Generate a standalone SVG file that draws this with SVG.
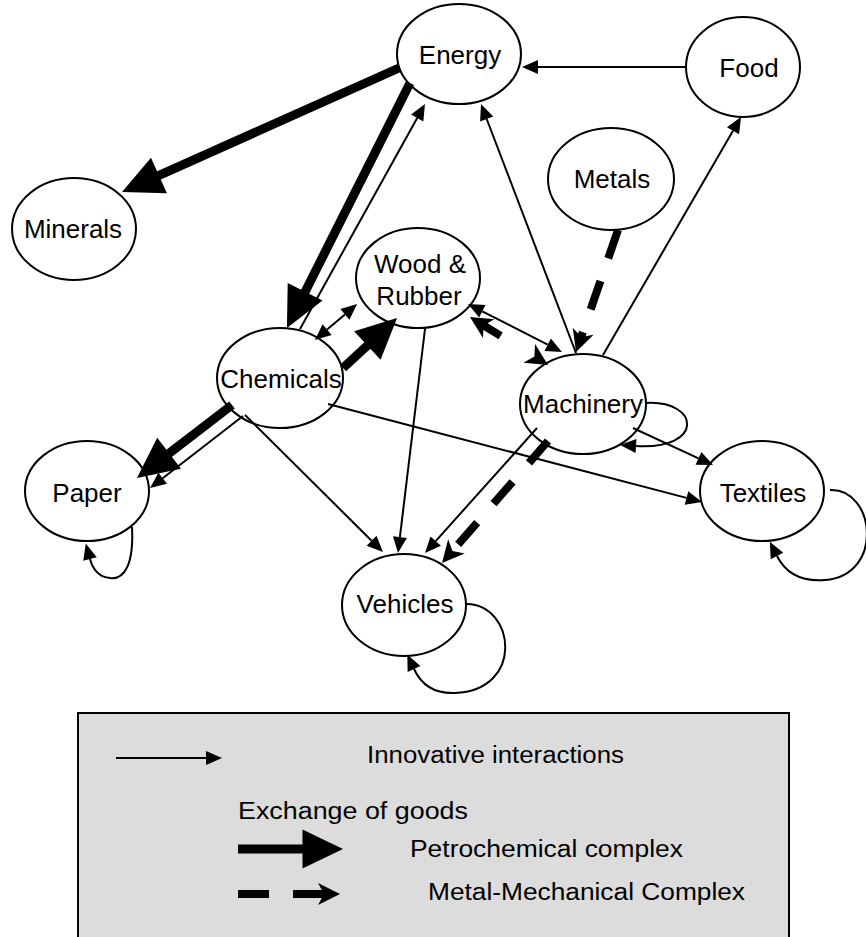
<svg xmlns="http://www.w3.org/2000/svg" width="866" height="937" viewBox="0 0 866 937">
<style>
.node ellipse{fill:#fff;stroke:#000;stroke-width:2}
text{font-family:"Liberation Sans",Arial,Helvetica,sans-serif;fill:#000}
.node text{font-size:26px;text-anchor:middle}
.legend text{font-size:23px}
.thin{fill:none;stroke:#000;stroke-width:2;marker-end:url(#mThin)}
.thin.both{marker-start:url(#mThin)}
.petro{fill:none;stroke:#000;stroke-width:9;marker-end:url(#mPetro)}
.metal{fill:none;stroke:#000;stroke-width:8;stroke-dasharray:30 24;marker-end:url(#mMetal)}
.metal.both{marker-start:url(#mMetal)}
</style>
<defs>
<marker id="mThin" markerUnits="userSpaceOnUse" markerWidth="20" markerHeight="20" refX="0" refY="0" orient="auto-start-reverse" overflow="visible"><path d="M0,-7 L16,0 L0,7 z" fill="#000"/></marker>
<marker id="mPetro" markerUnits="userSpaceOnUse" markerWidth="45" markerHeight="45" refX="0" refY="0" orient="auto-start-reverse" overflow="visible"><path d="M-0.5,-19.5 L40,0 L-0.5,19.5 z" fill="#000"/></marker>
<marker id="mMetal" markerUnits="userSpaceOnUse" markerWidth="30" markerHeight="30" refX="0" refY="0" orient="auto-start-reverse" overflow="visible"><path d="M-6,-11 L16,0 L-6,11 L0,0 z" fill="#000"/></marker>
</defs>

<g id="nodes">
<g id="energy" class="node"><ellipse cx="459" cy="54" rx="62" ry="50"/><text x="460" y="64">Energy</text></g>
<g id="food" class="node"><ellipse cx="743" cy="67" rx="57" ry="50"/><text x="749" y="77">Food</text></g>
<g id="metals" class="node"><ellipse cx="611" cy="179" rx="63" ry="51"/><text x="612" y="188">Metals</text></g>
<g id="minerals" class="node"><ellipse cx="74" cy="229" rx="62" ry="51"/><text x="73" y="238">Minerals</text></g>
<g id="wood-rubber" class="node"><ellipse cx="418" cy="278" rx="62" ry="50"/><text x="420" y="273">Wood &amp;</text><text x="419" y="305">Rubber</text></g>
<g id="chemicals" class="node"><ellipse cx="280" cy="378" rx="63" ry="50"/><text x="281" y="388">Chemicals</text></g>
<g id="machinery" class="node"><ellipse cx="583" cy="404" rx="63" ry="50"/><text x="583" y="413">Machinery</text></g>
<g id="paper" class="node"><ellipse cx="87" cy="491" rx="62" ry="50"/><text x="87" y="502">Paper</text></g>
<g id="textiles" class="node"><ellipse cx="762" cy="491" rx="62" ry="50"/><text x="763" y="502">Textiles</text></g>
<g id="vehicles" class="node"><ellipse cx="404" cy="605" rx="62" ry="51"/><text x="405" y="613">Vehicles</text></g>
</g>

<g id="connectors">
<path class="thin" d="M686,67 L538,67"/>
<path class="thin" d="M300,329 L417.2,118"/>
<path class="thin" d="M576,353 L486.7,119"/>
<path class="thin" d="M603,355 L733,130.8"/>
<path class="thin both" d="M327.1,329.6 L344.9,314.4"/>
<path class="thin both" d="M482.3,311.3 L547.7,344.7"/>
<path class="thin" d="M245,415 L371.6,540.7"/>
<path class="thin" d="M425,329 L399.9,537.1"/>
<path class="thin" d="M537,428 L435.7,541.1"/>
<path class="thin" d="M633,428 L698.5,458.3"/>
<path class="thin" d="M328,404 L686.5,497.9"/>
<path class="thin" d="M243,416 L162.7,478.2"/>
<path class="thin" d="M646,403 C700,400 705,450 636,446"/>
<path class="thin" d="M830,490 C875,488 885,575 825,580 C800,582 785,572 777,556"/>
<path class="thin" d="M467,604 C515,605 525,690 455,693 C432,694 420,682 414,669"/>
<path class="thin" d="M132,527 C134,565 124,580 110,578 C99,577 93,570 90,559"/>
<path class="petro" d="M399,68 L158.5,175.7"/>
<path class="petro" d="M410,83 L304.9,292.2"/>
<path class="petro" d="M343,368 L367.7,345.2"/>
<path class="petro" d="M232,405 L168.7,453.6"/>
<path class="metal" d="M618,230 L581.2,336.9"/>
<path class="metal" style="stroke-dasharray:29 25" d="M548,441 L452.5,550.9"/>
<path class="metal both" style="stroke-dasharray:20 40" d="M483.6,325.4 L534.4,356.6"/>
</g>

<g id="legend" class="legend">
<rect x="78" y="713" width="711" height="240" fill="#dcdcdc" stroke="#000" stroke-width="2"/>
<path class="thin" d="M116,758 L206,758"/>
<text x="367" y="763" textLength="257" lengthAdjust="spacingAndGlyphs">Innovative interactions</text>
<text x="238" y="819" textLength="230" lengthAdjust="spacingAndGlyphs">Exchange of goods</text>
<path class="petro" d="M238,849 L303,849"/>
<text x="410" y="857" textLength="273" lengthAdjust="spacingAndGlyphs">Petrochemical complex</text>
<path class="metal" style="stroke-dasharray:31 24" d="M238,894 L324,894"/>
<text x="428" y="900" textLength="317" lengthAdjust="spacingAndGlyphs">Metal-Mechanical Complex</text>
</g>
</svg>
